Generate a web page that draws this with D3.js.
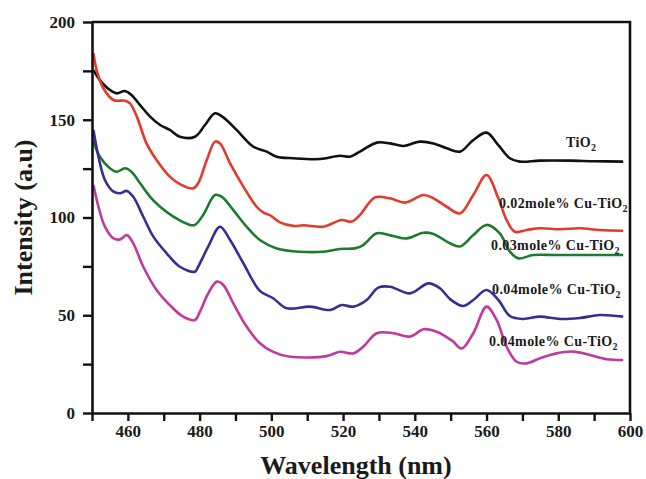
<!DOCTYPE html>
<html>
<head>
<meta charset="utf-8">
<script src="https://cdn.jsdelivr.net/npm/d3@7"></script>
<style>
  body { margin: 0; background: #fff; }
  text { font-family: "Liberation Serif", "DejaVu Serif", serif; font-weight: bold; }
</style>
</head>
<body>
<svg id="plt"></svg>
<script>
// spectra: [wavelength (nm), intensity (a.u)]
const tio2 = [[450.4,175.4],[452.2,170.3],[455,165.2],[456.9,163.5],[459.2,164.7],[461,162.7],[463.4,157.5],[466.2,151.6],[469,147.3],[471.7,144.8],[474.5,141.3],[478.7,141.3],[481.5,147.3],[484.3,153.3],[486.6,151.2],[490.3,144.8],[495,136.2],[498.7,133.7],[501.5,131.1],[506.1,130.3],[513.6,129.9],[519.1,131.6],[521.9,131.1],[524.7,133.7],[529.4,138.3],[533.1,137.9],[536.8,136.6],[541.4,138.8],[545.2,137.9],[548.9,135.4],[552.6,133.7],[556.3,139.6],[560,143.4],[563.3,137],[566.5,130.3],[569.3,128.6],[574.9,129.1],[583.2,129.1],[590,128.8],[598.1,128.6]];
const cu002 = [[450.4,184],[451.3,175.4],[453.2,166],[456,160.1],[459.2,159.7],[460.6,158.4],[462.5,151.6],[465.2,137.9],[468,129.4],[471.7,120.9],[474.5,117.1],[478.2,114.9],[479.6,117.5],[482,129.4],[484.3,138.8],[485.7,137.9],[488.5,127.7],[492.2,115.8],[495.9,105.5],[497.8,102.5],[499.6,101.2],[502.4,97.5],[506.1,95.7],[509,96],[514.5,95.3],[519.6,98.7],[522.4,97.9],[524.7,101.3],[528.9,110.3],[533.1,109.8],[537.3,107.6],[542.4,111.5],[545.2,109.8],[548.9,105.5],[552.6,102.1],[556.3,111.5],[560,121.7],[563.3,109.8],[565.6,98.7],[567.9,92.7],[571.2,93.6],[574.9,94.5],[580.5,94],[586,94.5],[591.6,93.6],[598.1,93.2]];
const cu003 = [[450.4,138.8],[452.2,131.1],[455,125.2],[456.9,123.4],[459.2,125.2],[461,123.4],[463.4,117.5],[466.2,110.6],[469,105.5],[472.7,100.4],[477.3,96.2],[478.7,96.2],[481,101.3],[484.3,111.5],[486.2,110.6],[489.4,103.8],[493.1,95.3],[496.8,88.5],[501.5,84.2],[508,82.5],[514.5,82.5],[519.1,83.9],[523.3,84.2],[525.6,85.9],[529.4,91.9],[534,90.5],[537.7,89.3],[542.4,92.2],[545.2,91.6],[549.8,86.8],[552.6,85.2],[556.3,91],[560,96.2],[563.7,91.9],[566.5,82.5],[568.9,79.1],[573,80.8],[579.5,80.8],[586,80.8],[591.6,80.8],[598.1,80.8]];
const cu004a = [[450.4,144.8],[451.8,131.1],[453.6,119.2],[456,113.2],[457.8,112.4],[459.7,113.6],[461.5,110.6],[464.3,100.4],[467.1,90.2],[470.8,81.7],[474.5,74.8],[478.7,72.3],[479.6,74.8],[482.4,85.1],[485.7,95.3],[488.5,88.5],[492.2,76.6],[496.8,62.5],[500.5,58.7],[504.3,53.6],[510.8,54.4],[516.4,52.7],[519.6,55.2],[522.9,54.4],[526.6,57.8],[529.8,64.1],[533.1,64.6],[538.7,61.2],[543.8,66.3],[547,63.8],[550,58],[553.5,54.7],[556.3,57.8],[560,62.9],[563.3,57.8],[566.5,49.6],[570.2,48.1],[574.9,49.3],[580.5,48.1],[586,48.6],[591.6,50.1],[598.1,49.3]];
const cu004b = [[450.4,116.6],[451.8,105.5],[453.6,95.3],[456,89.3],[457.8,88.8],[459.7,91],[461.5,86.8],[464.3,74.8],[468,62.9],[471.7,55.2],[475.4,49.3],[478.7,47.6],[480.1,51.9],[482.4,61.2],[484.8,67.2],[486.6,65.5],[489.4,56.1],[493.1,44.2],[496.8,35.7],[500.5,31.3],[505.2,28.8],[515.4,29.1],[519.1,31.3],[522.9,30.5],[525.6,33.9],[529.4,40.8],[534,40.8],[538.7,39.1],[542.4,42.8],[546.1,41.6],[550.4,37],[553.1,33],[556.3,40.8],[560,54.4],[562.8,47.6],[565.6,33.9],[568.4,26.2],[571.2,25.4],[574.9,28],[579.5,30.5],[584.2,31.4],[588.8,29.7],[593.5,27.5],[598.1,27.1]];

const seriesData = [tio2, cu002, cu003, cu004a, cu004b];
const seriesNames = ["TiO", "0.02mole% Cu-TiO", "0.03mole% Cu-TiO", "0.04mole% Cu-TiO", "0.04mole% Cu-TiO"];
const seriesColors = ["#111111", "#e23a2c", "#1d7a31", "#372e93", "#c03a9c"];

const xTicks = d3.range(450, 601, 10);
const xLabels = d3.range(460, 601, 20);
const yTicks = d3.range(0, 201, 25);
const yLabels = d3.range(0, 201, 50);

// label anchors in pixels (start x, baseline y)
const labelPos = [[566, 147], [499, 208], [491, 250], [492, 294], [489, 346]];

const W = 646, H = 479;
const margin = { left: 92, top: 22, right: 16, bottom: 66 };
const pw = W - margin.left - margin.right,
      ph = H - margin.top - margin.bottom;

const x = d3.scaleLinear().domain([450, 600]).range([0, pw]);
const y = d3.scaleLinear().domain([0, 200]).range([ph, 0]);

const svg = d3.select("#plt")
    .attr("width", W)
    .attr("height", H);

const g = svg.append("g")
    .attr("transform", "translate(" + margin.left + "," + margin.top + ")");

// curves
const line = d3.line()
    .x(d => x(d[0]))
    .y(d => y(d[1]))
    .curve(d3.curveCatmullRom.alpha(0.5));

seriesData.forEach(function (s, i) {
    g.append("path")
        .datum(s)
        .attr("fill", "none")
        .attr("stroke", seriesColors[i])
        .attr("stroke-width", 2.6)
        .attr("stroke-linejoin", "round")
        .attr("d", line);
});

// axes
const xAxis = g.append("g")
    .attr("transform", "translate(0," + ph + ")")
    .call(d3.axisBottom(x)
        .tickValues(xTicks)
        .tickSize(8)
        .tickSizeOuter(0)
        .tickPadding(4)
        .tickFormat(d => xLabels.includes(d) ? d : ""));

const yAxis = g.append("g")
    .call(d3.axisLeft(y)
        .tickValues(yTicks)
        .tickSize(9)
        .tickSizeOuter(0)
        .tickPadding(8)
        .tickFormat(d => yLabels.includes(d) ? d : ""));

[xAxis, yAxis].forEach(function (a) {
    a.select(".domain").attr("stroke", "#111").attr("stroke-width", 2.6);
    a.selectAll(".tick line").attr("stroke", "#111").attr("stroke-width", 2.4);
    a.selectAll(".tick text")
        .attr("fill", "#1a1a1a")
        .style("font-family", "'Liberation Serif', serif")
        .style("font-weight", "bold")
        .style("font-size", "17px");
});

// frame top and right
g.append("path")
    .attr("d", "M0,0H" + pw + "V" + ph)
    .attr("fill", "none")
    .attr("stroke", "#111")
    .attr("stroke-width", 2.6);

// series labels
seriesNames.forEach(function (name, i) {
    const t = svg.append("text")
        .attr("x", labelPos[i][0])
        .attr("y", labelPos[i][1])
        .attr("fill", "#1a1a1a")
        .style("font-size", "14px")
        .style("letter-spacing", "0.4px");
    t.append("tspan").text(name);
    t.append("tspan")
        .attr("dy", 4)
        .style("font-size", "10px")
        .text("2");
});

// axis titles
svg.append("text")
    .attr("x", 356)
    .attr("y", 474)
    .attr("text-anchor", "middle")
    .attr("fill", "#1a1a1a")
    .style("font-size", "26px")
    .text("Wavelength (nm)");

svg.append("text")
    .attr("transform", "translate(32," + (margin.top + ph / 2) + ") rotate(-90)")
    .attr("text-anchor", "middle")
    .attr("fill", "#1a1a1a")
    .style("font-size", "26px")
    .text("Intensity (a.u)");
</script>
</body>
</html>
